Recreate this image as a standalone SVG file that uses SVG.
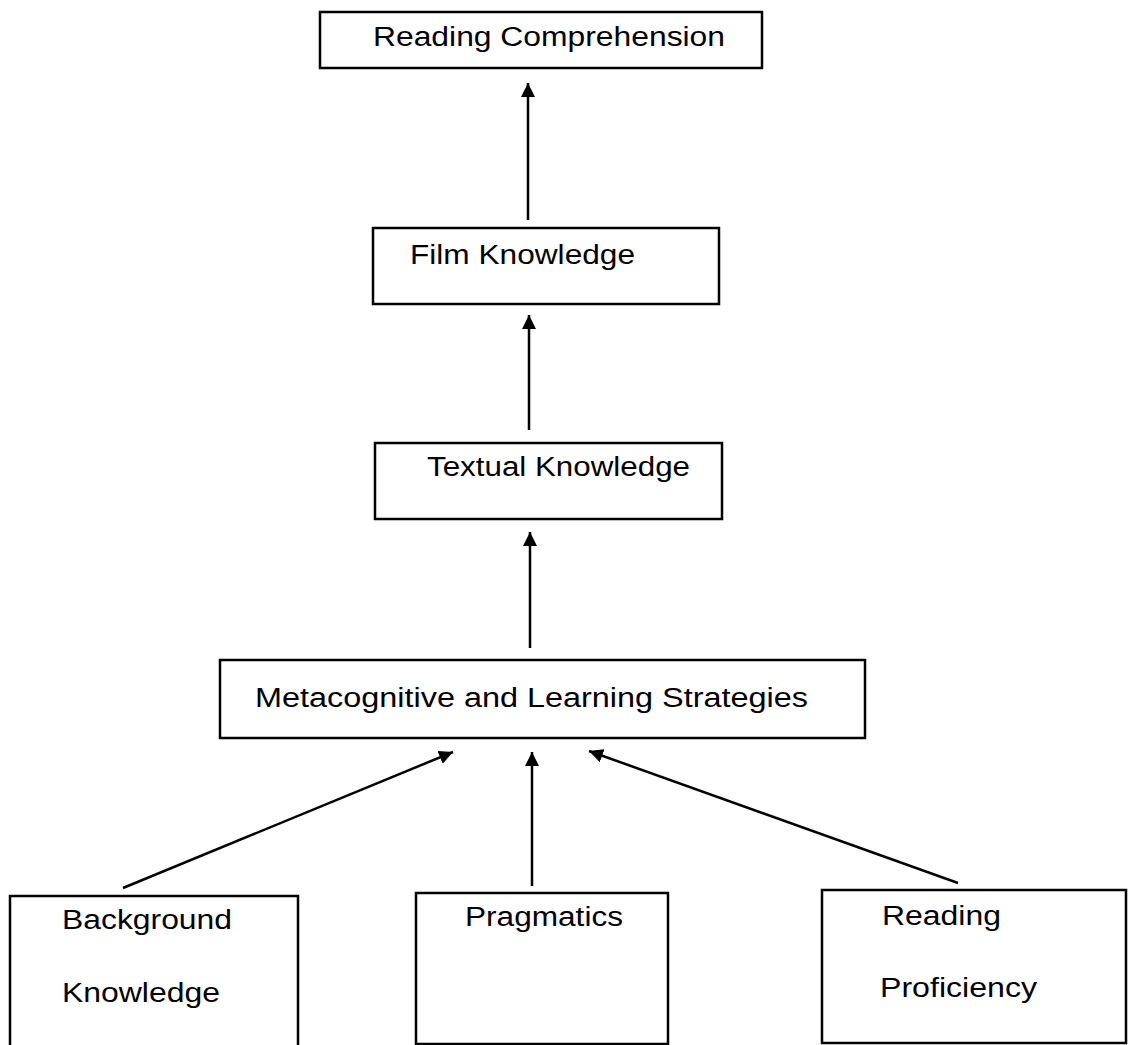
<svg xmlns="http://www.w3.org/2000/svg" width="1129" height="1045" viewBox="0 0 1129 1045">
<style>
.box{fill:#fff;stroke:#000;stroke-width:2.5}
.lbl{font-family:"Liberation Sans",Arial,sans-serif;font-size:27px;fill:#000}
.edge{stroke:#000;stroke-width:2.5;fill:none}
</style>
<defs>
<marker id="ah" markerUnits="userSpaceOnUse" markerWidth="16" markerHeight="14" refX="14" refY="7" orient="auto">
<path d="M0,0 L14,7 L0,14 Z" fill="#000"/>
</marker>
</defs>
<rect width="1129" height="1045" fill="#fff"/>
<g id="reading-comprehension">
<rect class="box" x="320" y="12" width="442" height="56"/>
<text class="lbl" x="373" y="46" textLength="352" lengthAdjust="spacingAndGlyphs">Reading Comprehension</text>
</g>
<g id="film-knowledge">
<rect class="box" x="373" y="228" width="346" height="76"/>
<text class="lbl" x="410" y="264" textLength="225" lengthAdjust="spacingAndGlyphs">Film Knowledge</text>
</g>
<g id="textual-knowledge">
<rect class="box" x="375" y="443" width="347" height="76"/>
<text class="lbl" x="427" y="476" textLength="263" lengthAdjust="spacingAndGlyphs">Textual Knowledge</text>
</g>
<g id="metacognitive">
<rect class="box" x="220" y="660" width="645" height="78"/>
<text class="lbl" x="255" y="707" textLength="553" lengthAdjust="spacingAndGlyphs">Metacognitive and Learning Strategies</text>
</g>
<g id="background-knowledge">
<rect class="box" x="10" y="896" width="288" height="152"/>
<text class="lbl" x="62" y="929" textLength="170" lengthAdjust="spacingAndGlyphs">Background</text>
<text class="lbl" x="62" y="1002" textLength="158" lengthAdjust="spacingAndGlyphs">Knowledge</text>
</g>
<g id="pragmatics">
<rect class="box" x="416" y="893" width="252" height="151"/>
<text class="lbl" x="465" y="926" textLength="158" lengthAdjust="spacingAndGlyphs">Pragmatics</text>
</g>
<g id="reading-proficiency">
<rect class="box" x="822" y="890" width="304" height="153"/>
<text class="lbl" x="882" y="925" textLength="119" lengthAdjust="spacingAndGlyphs">Reading</text>
<text class="lbl" x="880" y="997" textLength="157" lengthAdjust="spacingAndGlyphs">Proficiency</text>
</g>
<g id="connectors">
<line class="edge" x1="528" y1="220" x2="528" y2="83" marker-end="url(#ah)"/>
<line class="edge" x1="529" y1="430" x2="529" y2="315" marker-end="url(#ah)"/>
<line class="edge" x1="530" y1="648" x2="530" y2="532" marker-end="url(#ah)"/>
<line class="edge" x1="532" y1="886" x2="532" y2="752" marker-end="url(#ah)"/>
<line class="edge" x1="123" y1="888" x2="453" y2="752" marker-end="url(#ah)"/>
<line class="edge" x1="958" y1="883" x2="589" y2="751" marker-end="url(#ah)"/>
</g>
</svg>
